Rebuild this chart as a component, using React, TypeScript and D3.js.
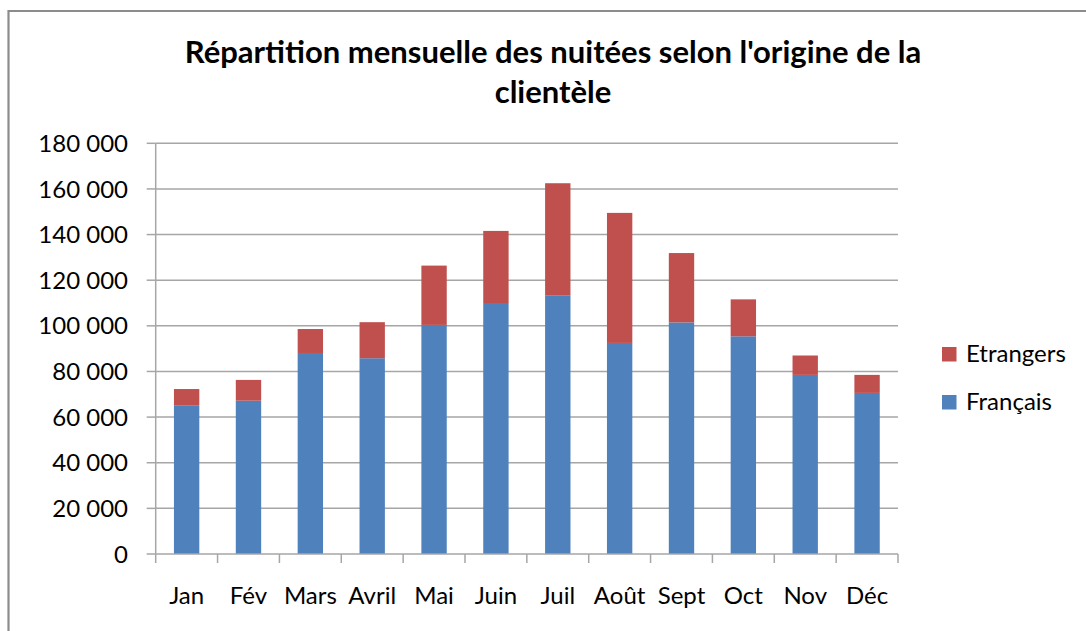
import React from "react";
import * as d3 from "d3";

const months = ["Jan", "Fév", "Mars", "Avril", "Mai", "Juin", "Juil", "Août", "Sept", "Oct", "Nov", "Déc"];
const francais = [65000, 67200, 88100, 85800, 100400, 110000, 113400, 92500, 101500, 95400, 78500, 70600];
const etrangers = [7300, 9100, 10500, 15800, 26000, 31600, 49100, 57000, 30400, 16200, 8500, 7900];
const yTicks = [0, 20000, 40000, 60000, 80000, 100000, 120000, 140000, 160000, 180000];
const seriesNames = ["Français", "Etrangers"];
const seriesColors = ["#4F81BD", "#C0504D"];

const W = 1086;
const H = 631;
const m = { left: 155.7, right: 898, top: 143.3, bottom: 554 };
const FONT = "Lato, 'Open Sans', sans-serif";

const fmt = (v: number) => {
  const s = String(v);
  return s.replace(/\B(?=(\d{3})+(?!\d))/g, " ");
};

export default function App() {
  const x = d3.scaleBand<string>().domain(months).range([m.left, m.right]).paddingInner(0.59).paddingOuter(0.295);
  const y = d3.scaleLinear().domain([0, 180000]).range([m.bottom, m.top]);
  const data = months.map((mo, i) => ({ month: mo, Français: francais[i], Etrangers: etrangers[i] }));
  const stack = d3.stack<any>().keys(seriesNames)(data);
  const step = (m.right - m.left) / months.length;
  const catTicks = d3.range(months.length + 1).map((i) => m.left + i * step);
  const grid = "#A6A6A6";

  return (
    <svg width={W} height={H} style={{ position: "absolute", left: 0, top: 0, background: "#fff" }}>
      <rect x={0} y={0} width={W} height={H} fill="#fff" />
      <line x1={8.5} y1={11} x2={W} y2={11} stroke="#8C8C8C" strokeWidth={2.2} />
      <line x1={8.5} y1={10} x2={8.5} y2={H} stroke="#8C8C8C" strokeWidth={2.2} />

      <text x={553} y={63} textAnchor="middle" fontFamily={FONT} fontWeight={700} fontSize={31} fill="#000">
        Répartition mensuelle des nuitées selon l'origine de la
      </text>
      <text x={553} y={103} textAnchor="middle" fontFamily={FONT} fontWeight={700} fontSize={31} fill="#000">
        clientèle
      </text>

      {yTicks.map((t) => (
        <g key={t}>
          {t > 0 && <line x1={m.left} x2={m.right} y1={y(t)} y2={y(t)} stroke={grid} strokeWidth={1.5} />}
          <line x1={m.left - 9} x2={m.left} y1={y(t)} y2={y(t)} stroke={grid} strokeWidth={1.5} />
          <text x={128} y={y(t)} dy="0.36em" textAnchor="end" fontFamily={FONT} fontSize={24} fill="#000">
            {fmt(t)}
          </text>
        </g>
      ))}

      {stack.map((s, si) =>
        s.map((d: any, i: number) => (
          <rect
            key={si + "-" + i}
            x={x(months[i])}
            width={x.bandwidth()}
            y={y(d[1])}
            height={y(d[0]) - y(d[1])}
            fill={seriesColors[si]}
          />
        ))
      )}

      <line x1={m.left} x2={m.left} y1={m.top} y2={m.bottom} stroke={grid} strokeWidth={1.5} />
      <line x1={m.left} x2={m.right} y1={m.bottom} y2={m.bottom} stroke={grid} strokeWidth={1.5} />
      {catTicks.map((cx, i) => (
        <line key={i} x1={cx} x2={cx} y1={m.bottom} y2={m.bottom + 9} stroke={grid} strokeWidth={1.5} />
      ))}
      {months.map((mo) => (
        <text key={mo} x={(x(mo) as number) + x.bandwidth() / 2} y={604} textAnchor="middle" fontFamily={FONT} fontSize={24} fill="#000">
          {mo}
        </text>
      ))}

      {[1, 0].map((si, k) => (
        <g key={si}>
          <rect x={942} y={347 + k * 48} width={14.5} height={14.5} fill={seriesColors[si]} />
          <text x={966} y={361.5 + k * 48} fontFamily={FONT} fontSize={24} fill="#000">
            {seriesNames[si]}
          </text>
        </g>
      ))}
    </svg>
  );
}
